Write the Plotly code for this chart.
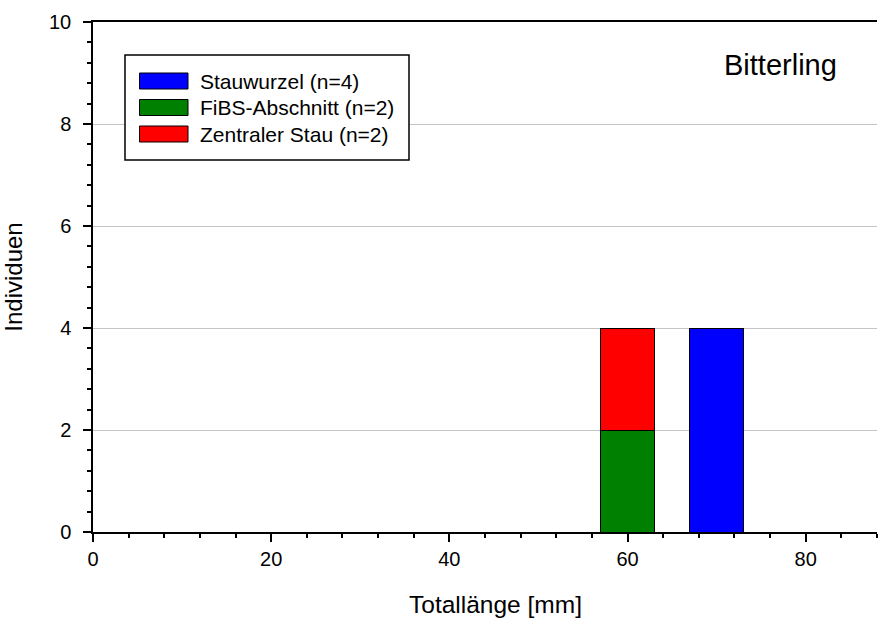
import plotly.graph_objects as go

# ---- data ----
length_bins = [60, 70]                      # Totallänge class centres [mm]
stauwurzel = [None, 4]
fibs_abschnitt = [2, None]
zentraler_stau = [2, None]

series_names = ["Stauwurzel (n=4)", "FiBS-Abschnitt (n=2)", "Zentraler Stau (n=2)"]
series_colors = ["#0000ff", "#008000", "#ff0000"]
x_ticks = [0, 20, 40, 60, 80]
y_ticks = [0, 2, 4, 6, 8, 10]
title_text = "Bitterling"
x_title = "Totallänge [mm]"
y_title = "Individuen"

FONT = "Liberation Sans, Arial, sans-serif"

fig = go.Figure()
# stacking order: FiBS bottom, Zentraler Stau on top; Stauwurzel separate
for name, vals, col in [
    (series_names[1], fibs_abschnitt, series_colors[1]),
    (series_names[2], zentraler_stau, series_colors[2]),
    (series_names[0], stauwurzel, series_colors[0]),
]:
    fig.add_trace(go.Bar(
        x=length_bins, y=vals, name=name, width=6,
        marker=dict(color=col, line=dict(color="black", width=1)),
        showlegend=False,
    ))

# ---- layout geometry ----
W, H = 878, 619
L, R, T, B = 93, 1, 22, 87
pw, ph = W - L - R, H - T - B


def px(x):
    return (x - L) / pw


def py(y):
    return (H - B - y) / ph


shapes = []
annotations = []
# legend box
shapes.append(dict(type="rect", xref="paper", yref="paper",
                   x0=px(125), x1=px(409), y0=py(160), y1=py(55),
                   line=dict(color="black", width=1.5), fillcolor="white", layer="above"))
row_centres = [81, 107.5, 134]
for name, col, yc in zip(series_names, series_colors, row_centres):
    shapes.append(dict(type="rect", xref="paper", yref="paper",
                       x0=px(139.5), x1=px(188), y0=py(yc + 8), y1=py(yc - 8),
                       line=dict(color="black", width=1), fillcolor=col, layer="above"))
    annotations.append(dict(xref="paper", yref="paper", x=px(198), y=py(yc),
                            xanchor="left", yanchor="middle", text=name, showarrow=False,
                            font=dict(family=FONT, size=21, color="black")))

annotations.append(dict(xref="paper", yref="paper", x=px(839), y=py(65),
                        xanchor="right", yanchor="middle", text=title_text, showarrow=False,
                        font=dict(family=FONT, size=29, color="black")))

# x-axis title (slightly right of the plot centre, as in the original)
annotations.append(dict(xref="paper", yref="paper", x=px(495.5), y=py(604),
                        xanchor="center", yanchor="middle", text=x_title, showarrow=False,
                        font=dict(family=FONT, size=24.5, color="black")))

fig.update_layout(
    width=W, height=H,
    margin=dict(l=L, r=R, t=T, b=B, pad=0),
    paper_bgcolor="white", plot_bgcolor="white",
    barmode="stack",
    font=dict(family=FONT, size=20, color="black"),
    shapes=shapes, annotations=annotations,
    xaxis=dict(
        range=[0, 88], tickvals=x_ticks, ticks="outside", ticklen=8, tickwidth=1.5,
        tickcolor="black", showline=True, linecolor="black", linewidth=1.5, mirror=True,
        showgrid=False, zeroline=False,
        minor=dict(dtick=4, tick0=0, ticks="outside", ticklen=4, tickwidth=1.5, tickcolor="black", showgrid=False),
        tickfont=dict(size=20),
    ),
    yaxis=dict(
        range=[0, 10], tickvals=y_ticks, ticks="outside", ticklen=8, tickwidth=1.5,
        tickcolor="black", showline=True, linecolor="black", linewidth=1.5,
        showgrid=True, gridcolor="#c4c4c4", gridwidth=1, zeroline=False,
        minor=dict(dtick=0.4, tick0=0, ticks="outside", ticklen=4, tickwidth=1.5, tickcolor="black", showgrid=False),
        title=dict(text=y_title, font=dict(size=24), standoff=21),
        tickfont=dict(size=20), ticklabelstandoff=8,
    ),
)

fig.write_html("out.html")
